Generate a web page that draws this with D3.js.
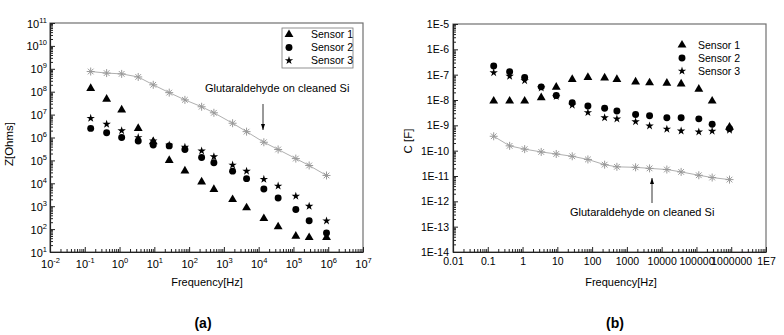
<!DOCTYPE html>
<html>
<head>
<meta charset="utf-8">
<script src="https://cdn.jsdelivr.net/npm/d3@7"></script>
<style>
    body { margin: 0; background: #fff; }
    svg { font-family: "Liberation Sans", Arial, sans-serif; }
</style>
</head>
<body>
<svg id="chart" width="784" height="335"></svg>
<script>
// measurement frequencies, shared by both panels [Hz]
const frequencies = [0.148, 0.425, 1.15, 3.44, 9.3, 26.8, 75.7, 229, 516, 1780, 4490, 14100, 36300, 117000, 283000, 893000];

const sensorNames = ["Sensor 1", "Sensor 2", "Sensor 3"];
const referenceLabel = "Glutaraldehyde on cleaned Si";

// panel (a) impedance |Z| [Ohms]
const zSensor1 = [1.4e8, 4.7e7, 1.6e7, 2.5e6, 6.6e5, 1.0e5, 3.5e4, 1.15e4, 5.4e3, 1.95e3, 850, 290, 126, 49, 43, 43];
const zSensor2 = [2.5e6, 1.6e6, 1.0e6, 7.1e5, 4.7e5, 4.3e5, 3.0e5, 1.35e5, 7.9e4, 3.4e4, 1.6e4, 5.6e3, 2.3e3, 720, 230, 68];
const zSensor3 = [6.9e6, 3.8e6, 2.0e6, 1.0e6, 7.1e5, 4.7e5, 3.8e5, 2.6e5, 1.45e5, 6.3e4, 3.4e4, 1.5e4, 7.6e3, 2.75e3, 1.0e3, 230];
const zReference = [7.6e8, 6.5e8, 6.0e8, 4.4e8, 2.0e8, 9.1e7, 4.4e7, 2.2e7, 1.2e7, 4.2e6, 1.8e6, 6.2e5, 3.0e5, 1.2e5, 6.0e4, 2.2e4];

// panel (b) capacitance C [F]
const cSensor1 = [9.1e-9, 9.1e-9, 9.1e-9, 1.23e-8, 3.2e-8, 6.5e-8, 7.8e-8, 7.4e-8, 6.5e-8, 5.2e-8, 4.8e-8, 4.6e-8, 4.3e-8, 2.7e-8, 9.1e-9, 8.5e-10];
const cSensor2 = [2.2e-7, 1.3e-7, 7.8e-8, 3.3e-8, 1.5e-8, 7.8e-9, 5.8e-9, 4.7e-9, 3.7e-9, 2.7e-9, 2.4e-9, 2.0e-9, 2.0e-9, 1.8e-9, 1.1e-9, 7.4e-10];
const cSensor3 = [1.2e-7, 8.7e-8, 5.8e-8, 3.0e-8, 1.4e-8, 6.3e-9, 3.2e-9, 2.0e-9, 1.8e-9, 1.4e-9, 9.5e-10, 7.1e-10, 6.0e-10, 5.5e-10, 5.9e-10, 6.5e-10];
const cReference = [3.7e-10, 1.55e-10, 1.15e-10, 8.9e-11, 7.4e-11, 6.0e-11, 4.5e-11, 2.8e-11, 2.3e-11, 2.2e-11, 2.0e-11, 1.8e-11, 1.45e-11, 1.07e-11, 8.7e-12, 7.2e-12];

// tick labels
const freqExponentsA = [-2, -1, 0, 1, 2, 3, 4, 5, 6, 7];
const zExponents = [1, 2, 3, 4, 5, 6, 7, 8, 9, 10, 11];
const freqLabelsB = ["0.01", "0.1", "1", "10", "100", "1000", "10000", "100000", "1000000", "1E7"];
const cLabels = ["1E-14", "1E-13", "1E-12", "1E-11", "1E-10", "1E-9", "1E-8", "1E-7", "1E-6", "1E-5"];

const svg = d3.select("#chart");

const asteriskPath = (r) => {
    let p = "";
    for (let i = 0; i < 4; i++) {
        const a = i * Math.PI / 4;
        p += "M" + (-r * Math.cos(a)) + "," + (-r * Math.sin(a)) + "L" + (r * Math.cos(a)) + "," + (r * Math.sin(a));
    }
    return p;
};

const markers = {
    "Sensor 1": d3.symbol().type(d3.symbolTriangle).size(34)(),
    "Sensor 2": d3.symbol().type(d3.symbolCircle).size(38)(),
    "Sensor 3": d3.symbol().type(d3.symbolStar).size(22)()
};

class LogPanel {

    constructor(left, right, top, bottom, xDomain, yDomain) {
        this.x = d3.scaleLog().domain(xDomain).range([left, right]);
        this.y = d3.scaleLog().domain(yDomain).range([bottom, top]);
        this.left = left; this.right = right; this.top = top; this.bottom = bottom;
        this.g = svg.append("g");
    }

    minorTicks(domain) {
        let lo = Math.round(Math.log10(domain[0])), hi = Math.round(Math.log10(domain[1]));
        let ticks = [];
        for (let d = lo; d < hi; d++) {
            for (let k = 2; k <= 9; k++) ticks.push(k * Math.pow(10, d));
        }
        return ticks;
    }

    drawFrame() {
        this.g.append("rect")
            .attr("x", this.left).attr("y", this.top)
            .attr("width", this.right - this.left)
            .attr("height", this.bottom - this.top)
            .attr("fill", "none")
            .attr("stroke", "#707070")
            .attr("stroke-width", 1.2);
    }

    drawAxes(xMajor, yMajor) {
        // minor ticks, pointing inward
        this.g.append("g")
            .attr("transform", "translate(0," + this.bottom + ")")
            .call(d3.axisBottom(this.x).tickValues(this.minorTicks(this.x.domain())).tickSize(-3).tickFormat(""))
            .call(g => g.select(".domain").remove());
        this.g.append("g")
            .attr("transform", "translate(" + this.left + ",0)")
            .call(d3.axisLeft(this.y).tickValues(this.minorTicks(this.y.domain())).tickSize(-3).tickFormat(""))
            .call(g => g.select(".domain").remove());

        this.xAxis = this.g.append("g")
            .attr("transform", "translate(0," + this.bottom + ")")
            .call(d3.axisBottom(this.x).tickValues(xMajor).tickSize(-5).tickSizeOuter(0));
        this.yAxis = this.g.append("g")
            .attr("transform", "translate(" + this.left + ",0)")
            .call(d3.axisLeft(this.y).tickValues(yMajor).tickSize(-5).tickSizeOuter(0));

        this.g.selectAll(".domain").attr("stroke", "#222").attr("stroke-width", 1.2);
        this.g.selectAll(".tick line").attr("stroke", "#222");
    }

    drawSeries(values, name) {
        this.g.append("g")
            .selectAll("path")
            .data(values.map((v, i) => [frequencies[i], v]))
            .enter()
            .append("path")
            .attr("transform", d => "translate(" + this.x(d[0]) + "," + this.y(d[1]) + ")")
            .attr("d", markers[name])
            .attr("fill", "#000");
    }

    drawReference(values) {
        let pts = values.map((v, i) => [frequencies[i], v]);
        this.g.append("path")
            .datum(pts)
            .attr("fill", "none")
            .attr("stroke", "#b0b0b0")
            .attr("stroke-width", 1)
            .attr("d", d3.line().x(d => this.x(d[0])).y(d => this.y(d[1])));
        this.g.append("g")
            .selectAll("path")
            .data(pts)
            .enter()
            .append("path")
            .attr("transform", d => "translate(" + this.x(d[0]) + "," + this.y(d[1]) + ")")
            .attr("d", asteriskPath(4))
            .attr("stroke", "#999")
            .attr("stroke-width", 1)
            .attr("fill", "none");
    }

    drawLegend(symbolX, textX, rowY) {
        let leg = this.g.append("g");
        sensorNames.forEach((name, i) => {
            leg.append("path")
                .attr("transform", "translate(" + symbolX + "," + (rowY[i]) + ")")
                .attr("d", markers[name])
                .attr("fill", "#000");
            leg.append("text")
                .attr("x", textX)
                .attr("y", rowY[i] + 3.5)
                .style("font-size", "10.5px")
                .text(name);
        });
        return leg;
    }

    drawAnnotation(textX, textY, arrowX, fromY, toY) {
        this.g.append("text")
            .attr("x", textX).attr("y", textY)
            .style("font-size", "11px")
            .text(referenceLabel);
        this.g.append("line")
            .attr("x1", arrowX).attr("x2", arrowX)
            .attr("y1", fromY).attr("y2", toY)
            .attr("stroke", "#000").attr("stroke-width", 0.8);
        let dir = toY > fromY ? 1 : -1;
        this.g.append("path")
            .attr("d", "M" + (arrowX - 2) + "," + (toY - 6 * dir) + "L" + (arrowX + 2) + "," + (toY - 6 * dir) + "L" + arrowX + "," + toY + "Z")
            .attr("fill", "#000");
    }

    drawTitles(xTitle, xTitleX, yTitle, yTitleX, yTitleY, tag, tagX) {
        this.g.append("text")
            .attr("x", xTitleX).attr("y", 286)
            .attr("text-anchor", "middle")
            .style("font-size", "11px")
            .text(xTitle);
        this.g.append("text")
            .attr("transform", "translate(" + yTitleX + "," + yTitleY + ") rotate(-90)")
            .attr("text-anchor", "middle")
            .style("font-size", "11.5px")
            .text(yTitle);
        this.g.append("text")
            .attr("x", tagX).attr("y", 328)
            .attr("text-anchor", "middle")
            .style("font-size", "14px")
            .style("font-weight", "bold")
            .text(tag);
    }
}

// ---- panel (a) ----
const panelA = new LogPanel(50, 363, 23, 252, [0.01, 1e7], [10, 1e11]);
panelA.drawFrame();
panelA.drawAxes(freqExponentsA.map(e => Math.pow(10, e)), zExponents.map(e => Math.pow(10, e)));

// powers of ten with superscript exponents
panelA.xAxis.selectAll(".tick text")
    .attr("y", 16).attr("dy", 0)
    .text("")
    .each(function(d, i) {
        let t = d3.select(this);
        t.append("tspan").style("font-size", "11px").text("10");
        t.append("tspan").attr("dy", "-5").style("font-size", "7.5px").text(freqExponentsA[i]);
    });
panelA.yAxis.selectAll(".tick text")
    .attr("x", -3).attr("dy", 4)
    .text("")
    .each(function(d, i) {
        let t = d3.select(this);
        t.append("tspan").style("font-size", "11px").text("10");
        t.append("tspan").attr("dy", "-5").style("font-size", "7.5px").text(zExponents[i]);
    });
panelA.g.selectAll(".tick text").attr("fill", "#000");

panelA.drawReference(zReference);
panelA.drawSeries(zSensor3, "Sensor 3");
panelA.drawSeries(zSensor2, "Sensor 2");
panelA.drawSeries(zSensor1, "Sensor 1");

panelA.g.append("rect")
    .attr("x", 282).attr("y", 28).attr("width", 71).attr("height", 40)
    .attr("fill", "#fff").attr("stroke", "#777").attr("stroke-width", 0.8);
panelA.drawLegend(289, 311, [34.5, 47.5, 60.5]);
panelA.drawAnnotation(205, 92, 263, 104, 130);
panelA.drawTitles("Frequency[Hz]", 207, "Z[Ohms]", 13, 144, "(a)", 203);

// ---- panel (b) ----
const panelB = new LogPanel(453, 766, 24, 252, [0.01, 1e7], [1e-14, 1e-5]);
panelB.drawFrame();
panelB.drawAxes(freqLabelsB.map(s => +s), cLabels.map(s => +s));

panelB.xAxis.selectAll(".tick text")
    .attr("y", 13).attr("dy", 0)
    .style("font-size", "10.5px")
    .text((d, i) => freqLabelsB[i]);
panelB.yAxis.selectAll(".tick text")
    .attr("x", -4).attr("dy", 3.5)
    .style("font-size", "10.5px")
    .text((d, i) => cLabels[i]);
panelB.g.selectAll(".tick text").attr("fill", "#000");

panelB.drawReference(cReference);
panelB.drawSeries(cSensor3, "Sensor 3");
panelB.drawSeries(cSensor2, "Sensor 2");
panelB.drawSeries(cSensor1, "Sensor 1");

panelB.drawLegend(682, 698, [45, 58, 71]);
panelB.drawAnnotation(570, 216, 652, 203, 178);
panelB.drawTitles("Frequency[Hz]", 621, "C [F]", 412, 141, "(b)", 615);
</script>
</body>
</html>
